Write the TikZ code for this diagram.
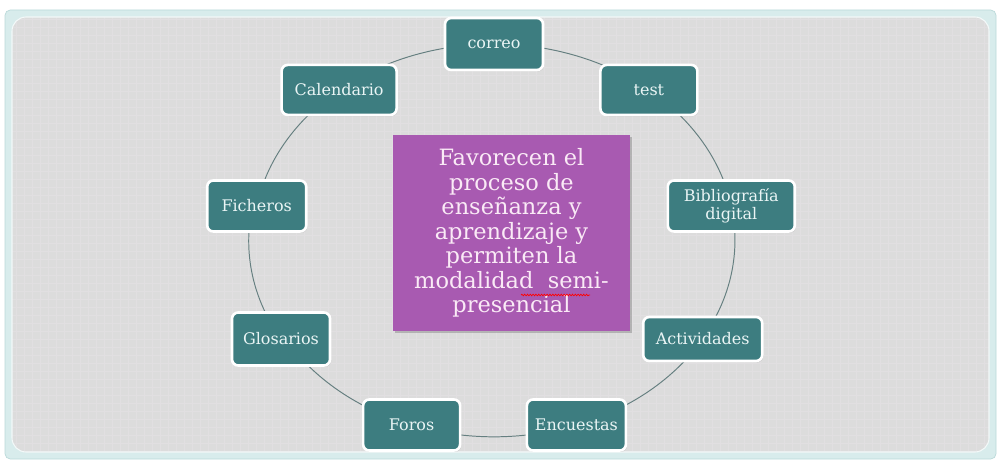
\documentclass[tikz,border=0pt]{standalone}
\usepackage{fontspec}
\setmainfont{DejaVu Serif}
\usetikzlibrary{shadows,decorations.pathmorphing,backgrounds}
\definecolor{tealbox}{HTML}{3D7D80}
\definecolor{tealtext}{HTML}{EAF5F5}
\definecolor{purplebox}{HTML}{A85AB1}
\definecolor{purpletext}{HTML}{FAEAF6}
\definecolor{linkcol}{HTML}{657F80}
\definecolor{bandcol}{HTML}{D8ECEC}
\definecolor{bandline}{HTML}{BBDADA}
\definecolor{canvascol}{HTML}{DCDCDC}
\definecolor{gridcol}{HTML}{E1DFE1}
\tikzset{
  item/.style={draw=white, line width=1.5pt, fill=tealbox, rounded corners=3.5pt,
    text=tealtext, align=center, inner sep=1pt,
    font=\fontsize{9.1}{8.8}\selectfont,
    drop shadow={opacity=0.25, shadow xshift=0.6pt, shadow yshift=-0.8pt}},
  central/.style={fill=purplebox, text=purpletext, align=center, inner sep=0pt,
    font=\fontsize{12.8}{13.9}\selectfont,
    drop shadow={opacity=0.45, shadow xshift=1pt, shadow yshift=-1.2pt}},
  link/.style={draw=linkcol, line width=0.55pt},
  ring/.style={x radius=241, y radius=196}
}
\begin{document}
\begin{tikzpicture}[x=0.02cm,y=0.02cm]
\useasboundingbox (0,0) rectangle (1000,467);
\begin{scope}[on background layer]
\fill[white] (0,0) rectangle (1000,467);
\draw[bandline, fill=bandcol, line width=0.4pt, rounded corners=3pt] (5,8) rectangle (996,457);
\fill[canvascol, rounded corners=8pt] (12,15) rectangle (989,450);
\begin{scope}
  \clip[rounded corners=8pt] (12,15) rectangle (989,450);
  \draw[gridcol, line width=0.3pt, step=0.16cm] (12,15) grid (989,450);
\end{scope}
\draw[white!70!bandcol, line width=0.6pt, rounded corners=8pt] (12,15) rectangle (989,450);
\end{scope}
% centre
\node[central, minimum width=4.74cm, minimum height=3.92cm] (centre) at (511.5,234)
  {Favorecen el\\proceso de\\enseñanza y\\aprendizaje y\\permiten la\\modalidad\ \ semi-\\presencial};
\draw[red, line width=0.4pt, decorate, decoration={snake, segment length=1.6pt, amplitude=0.45pt}]
  (521,172) -- (590,172);
% items
\node[item, minimum width=1.96cm, minimum height=1.04cm] (correo) at (494,423) {correo};
\node[item, minimum width=1.94cm, minimum height=1.0cm] (test) at (648.9,377.1) {test};
\node[item, minimum width=2.54cm, minimum height=1.02cm] (biblio) at (731.3,261) {Bibliografía\\digital};
\node[item, minimum width=2.38cm, minimum height=0.88cm] (activ) at (702.7,128) {Actividades};
\node[item, minimum width=1.98cm, minimum height=1.02cm] (encu) at (576.4,42) {Encuestas};
\node[item, minimum width=1.94cm, minimum height=1.02cm] (foros) at (411.6,42) {Foros};
\node[item, minimum width=1.96cm, minimum height=1.06cm] (glos) at (281,128) {Glosarios};
\node[item, minimum width=1.98cm, minimum height=1.02cm] (fich) at (256.7,261) {Ficheros};
\node[item, minimum width=2.3cm, minimum height=1.0cm] (cal) at (339.1,377.1) {Calendario};
% connectors along the ring, behind the nodes
\begin{scope}[on background layer]
\draw[link] (correo.center) arc[ring, start angle=90, end angle=50];
\draw[link] (test.center) arc[ring, start angle=50, end angle=10];
\draw[link] (biblio.center) arc[ring, start angle=10, end angle=-30];
\draw[link] (activ.center) arc[ring, start angle=-30, end angle=-70];
\draw[link] (encu.center) arc[ring, start angle=-70, end angle=-110];
\draw[link] (foros.center) arc[ring, start angle=-110, end angle=-150];
\draw[link] (glos.center) arc[ring, start angle=-150, end angle=-190];
\draw[link] (fich.center) arc[ring, start angle=170, end angle=130];
\draw[link] (cal.center) arc[ring, start angle=130, end angle=90];
\end{scope}
\end{tikzpicture}
\end{document}
